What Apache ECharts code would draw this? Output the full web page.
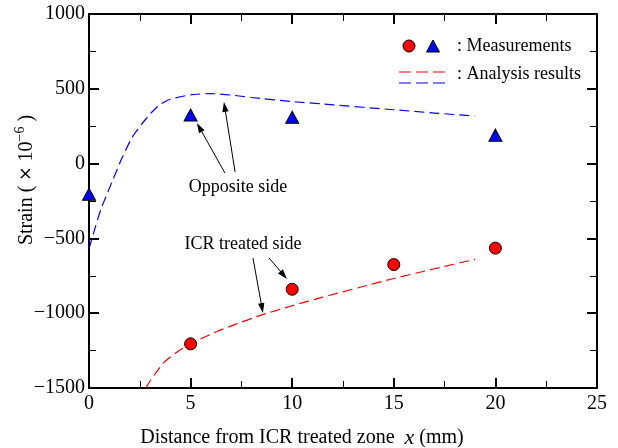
<!DOCTYPE html>
<html>
<head>
<meta charset="utf-8">
<script src="https://cdn.jsdelivr.net/npm/echarts@6/dist/echarts.min.js"></script>
<style>html,body{margin:0;padding:0;background:#fff;}#c{width:618px;height:448px;}</style>
</head>
<body>
<div id="c"></div>
<script>
// ---- data ----
const xTicks = { min: 0, max: 25, interval: 5 };
const yTicks = { min: -1500, max: 1000, interval: 500 };
const measX = [5, 10, 15, 20];
const icrMeas = [-1205, -840, -675, -565];
const oppX = [0, 5, 10, 20];
const oppMeas = [-205, 325, 310, 190];
const icrAnalysis = [[2.8,-1500],[3.0,-1455],[3.65,-1335],[4.3,-1262],[5,-1205],[6.3,-1122],[7.3,-1070],[8.4,-1016],[10,-950],[11.5,-893],[13.3,-828],[15,-768],[17,-703],[19,-640]];
const oppAnalysis = [[0,-570],[0.3,-430],[0.6,-300],[1.2,-100],[1.6,30],[2.1,170],[2.6,265],[3.1,345],[3.5,395],[4,430],[5,460],[6,468],[7,458],[8,442],[10,415],[12,393],[15,360],[17,338],[19,318]];
const arrowsData = [
  [[6.69,-63],[5.31,271]],
  [[7.19,-56],[6.64,412]],
  [[8.07,-631],[8.56,-999]],
  [[8.86,-631],[9.74,-771]]
];
const notes = [
  { text: 'Opposite side', at: [7.33, -156] },
  { text: 'ICR treated side', at: [7.58, -537] }
];
const legendLabels = [': Measurements', ': Analysis results'];

const SERIF = '"Liberation Serif", "Times New Roman", serif';
const chart = echarts.init(document.getElementById('c'), null, { renderer: 'canvas' });

function axisCommon(showLabel, margin) {
  return {
    axisLine: { show: true, onZero: false, lineStyle: { color: '#000', width: 2 } },
    axisTick: { show: true, inside: true, length: 10, lineStyle: { color: '#000', width: 2 } },
    minorTick: { show: true, splitNumber: 2, length: 7, lineStyle: { color: '#000', width: 1 } },
    splitLine: { show: false },
    minorSplitLine: { show: false },
    axisLabel: {
      show: showLabel, color: '#000', fontFamily: SERIF, fontSize: 20, margin: margin || 6,
      formatter: v => (v < 0 ? '\u2212' + Math.abs(v) : String(v))
    }
  };
}

chart.setOption({
  animation: false,
  backgroundColor: '#fff',
  grid: { left: 89, right: 21, top: 14, bottom: 60, containLabel: false },
  xAxis: [
    Object.assign({ type: 'value', position: 'bottom' }, xTicks, axisCommon(true, 6)),
    Object.assign({ type: 'value', position: 'top' }, xTicks, axisCommon(false))
  ],
  yAxis: [
    Object.assign({ type: 'value', position: 'left' }, yTicks, axisCommon(true, 4)),
    Object.assign({ type: 'value', position: 'right' }, yTicks, axisCommon(false))
  ],
  series: [
    {
      type: 'line', data: oppAnalysis, showSymbol: false, smooth: 0.2,
      lineStyle: { color: '#0000ff', width: 1.2, type: [10, 5] }, z: 3
    },
    {
      type: 'line', data: icrAnalysis, showSymbol: false, smooth: 0.2,
      lineStyle: { color: '#ff0000', width: 1.2, type: [10, 5] }, z: 3
    },
    {
      type: 'scatter', data: measX.map((x, i) => [x, icrMeas[i]]), symbol: 'circle', symbolSize: 12, clip: false,
      itemStyle: { color: '#ff0000', borderColor: '#000', borderWidth: 1, opacity: 1 }, z: 5
    },
    {
      type: 'scatter', data: oppX.map((x, i) => [x, oppMeas[i]]), symbol: 'triangle', symbolSize: [13, 12], clip: false,
      itemStyle: { color: '#0000ff', borderColor: '#000', borderWidth: 1, opacity: 1 }, z: 5
    }
  ]
});

const toPx = d => chart.convertToPixel({ xAxisIndex: 0, yAxisIndex: 0 }, d);
const g = [];
arrowsData.forEach(a => {
  const t = toPx(a[0]), h = toPx(a[1]);
  const dx = h[0] - t[0], dy = h[1] - t[1], L = Math.hypot(dx, dy);
  const ux = dx / L, uy = dy / L, hl = 10, hw = 3.2;
  const bx = h[0] - ux * hl, by = h[1] - uy * hl;
  g.push({ type: 'line', shape: { x1: t[0], y1: t[1], x2: bx + ux * 2, y2: by + uy * 2 }, style: { stroke: '#000', lineWidth: 1 }, z: 10 });
  g.push({ type: 'polygon', shape: { points: [[h[0], h[1]], [bx - uy * hw, by + ux * hw], [bx + uy * hw, by - ux * hw]] }, style: { fill: '#000' }, z: 10 });
});
notes.forEach(n => {
  const p = toPx(n.at);
  g.push({ type: 'text', x: p[0], y: p[1], style: { text: n.text, font: '18px ' + SERIF, fill: '#000', align: 'center', verticalAlign: 'middle' } });
});
// legend
g.push({ type: 'circle', shape: { cx: 409, cy: 46, r: 6 }, style: { fill: '#ff0000', stroke: '#000', lineWidth: 1 } });
g.push({ type: 'polygon', shape: { points: [[433, 40], [439.5, 52], [426.5, 52]] }, style: { fill: '#0000ff', stroke: '#000', lineWidth: 1 } });
g.push({ type: 'text', x: 457, y: 46, style: { text: legendLabels[0], font: '18px ' + SERIF, fill: '#000', align: 'left', verticalAlign: 'middle' } });
g.push({ type: 'line', shape: { x1: 399, y1: 72, x2: 445, y2: 72 }, style: { stroke: '#ff0000', lineWidth: 1.2, lineDash: [12, 5] } });
g.push({ type: 'line', shape: { x1: 399, y1: 83, x2: 445, y2: 83 }, style: { stroke: '#0000ff', lineWidth: 1.2, lineDash: [12, 5] } });
g.push({ type: 'text', x: 457, y: 74, style: { text: legendLabels[1], font: '18px ' + SERIF, fill: '#000', align: 'left', verticalAlign: 'middle' } });
// axis titles
g.push({
  type: 'text', x: 302, y: 438,
  style: {
    text: 'Distance from ICR treated zone  {i|x} (mm)', font: '20px ' + SERIF, fill: '#000', align: 'center', verticalAlign: 'middle',
    rich: { i: { fontFamily: SERIF, fontSize: 22, fontStyle: 'italic' } }
  }
});
g.push({
  type: 'text', x: 27, y: 180, rotation: Math.PI / 2,
  style: {
    text: 'Strain ( {m|\u00d7} 10{s|\u22126} )', font: '20px ' + SERIF, fill: '#000', align: 'center', verticalAlign: 'middle',
    rich: { m: { fontFamily: '"DejaVu Sans", sans-serif', fontSize: 17 }, s: { fontFamily: SERIF, fontSize: 14, padding: [0, 0, 14, 0] } }
  }
});
chart.setOption({ graphic: g });
</script>
</body>
</html>
